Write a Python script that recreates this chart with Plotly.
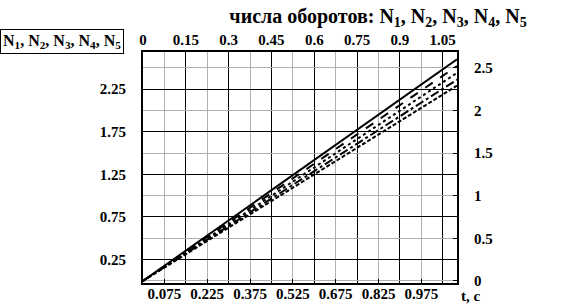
import plotly.graph_objects as go

# data
t = [0.0, 0.275, 0.55, 0.825, 1.1]
N1 = [0.0, 0.65, 1.30, 1.95, 2.60]
N2 = [0.0, 0.63, 1.26, 1.89, 2.52]
N3 = [0.0, 0.61, 1.22, 1.83, 2.44]
N4 = [0.0, 0.59, 1.18, 1.77, 2.36]
N5 = [0.0, 0.57, 1.145, 1.72, 2.29]
series = [("N1", N1, "solid"), ("N2", N2, "dash"), ("N3", N3, "dot"),
          ("N4", N4, "dashdot"), ("N5", N5, "4px,2px")]

bottom_ticks = [0.075, 0.225, 0.375, 0.525, 0.675, 0.825, 0.975]
top_ticks = [0, 0.15, 0.3, 0.45, 0.6, 0.75, 0.9, 1.05]
left_ticks = [0.25, 0.75, 1.25, 1.75, 2.25]
right_ticks = [0, 0.5, 1, 1.5, 2, 2.5]

XR = [0, 1.1]
YR = [-0.025, 2.685]

FAM = "Times New Roman, Liberation Serif, serif"
tf = dict(family=FAM, size=15, color="black", weight="bold")


def labels(vals):
    return [str(v) for v in vals]


fig = go.Figure()
for name, vals, dash in series:
    fig.add_trace(go.Scatter(x=t, y=vals, mode="lines", name=name,
                             line=dict(color="black", width=2, dash=dash),
                             showlegend=False))
# invisible trace to activate secondary axes
fig.add_trace(go.Scatter(x=[0], y=[0], xaxis="x2", yaxis="y2", mode="markers",
                         marker=dict(opacity=0), showlegend=False, hoverinfo="skip"))

common = dict(ticks="inside", ticklen=4, tickcolor="black", gridwidth=1,
              showline=True, linecolor="black", linewidth=2, zeroline=False,
              automargin=False, tickfont=tf)

fig.update_layout(
    width=570, height=307,
    margin=dict(l=143, r=113, t=52, b=24, autoexpand=False),
    paper_bgcolor="white", plot_bgcolor="white",
    font=dict(family=FAM, size=15, color="black"),
    xaxis=dict(range=XR, tickvals=bottom_ticks, ticktext=labels(bottom_ticks),
               showgrid=True, gridcolor="#b0b0b0", ticklabelstandoff=-4, **common),
    xaxis2=dict(range=XR, overlaying="x", side="top", tickvals=top_ticks,
                ticktext=labels(top_ticks),
                showgrid=True, gridcolor="black", ticklabelstandoff=-1, **common),
    yaxis=dict(range=YR, tickvals=left_ticks, ticktext=labels(left_ticks),
               showgrid=True, gridcolor="black", ticklabelstandoff=12, **common),
    yaxis2=dict(range=YR, overlaying="y", side="right", tickvals=right_ticks,
                ticktext=labels(right_ticks),
                showgrid=True, gridcolor="#b0b0b0", ticklabelstandoff=12, **common),
    title=dict(text="<b>числа оборотов: N<sub>1</sub>, N<sub>2</sub>, N<sub>3</sub>, N<sub>4</sub>, N<sub>5</sub></b>",
               x=378 / 570, xanchor="center", y=1 - 16 / 307, yanchor="middle",
               font=dict(family=FAM, size=20, color="black")),
)

fig.add_annotation(xref="paper", yref="paper", x=-143 / 314, y=1 + 10 / 231,
                   xanchor="left", yanchor="middle",
                   text="<b>N<sub>1</sub>, N<sub>2</sub>, N<sub>3</sub>, N<sub>4</sub>, N<sub>5</sub></b>",
                   showarrow=False, bordercolor="black", borderwidth=1, borderpad=2,
                   font=dict(family=FAM, size=16, color="black"))
fig.add_annotation(xref="paper", yref="paper", x=1 + 13 / 314, y=-13 / 231,
                   xanchor="center", yanchor="middle", text="<b>t, c</b>",
                   showarrow=False, font=dict(family=FAM, size=15, color="black"))

fig.write_html("out.html")
